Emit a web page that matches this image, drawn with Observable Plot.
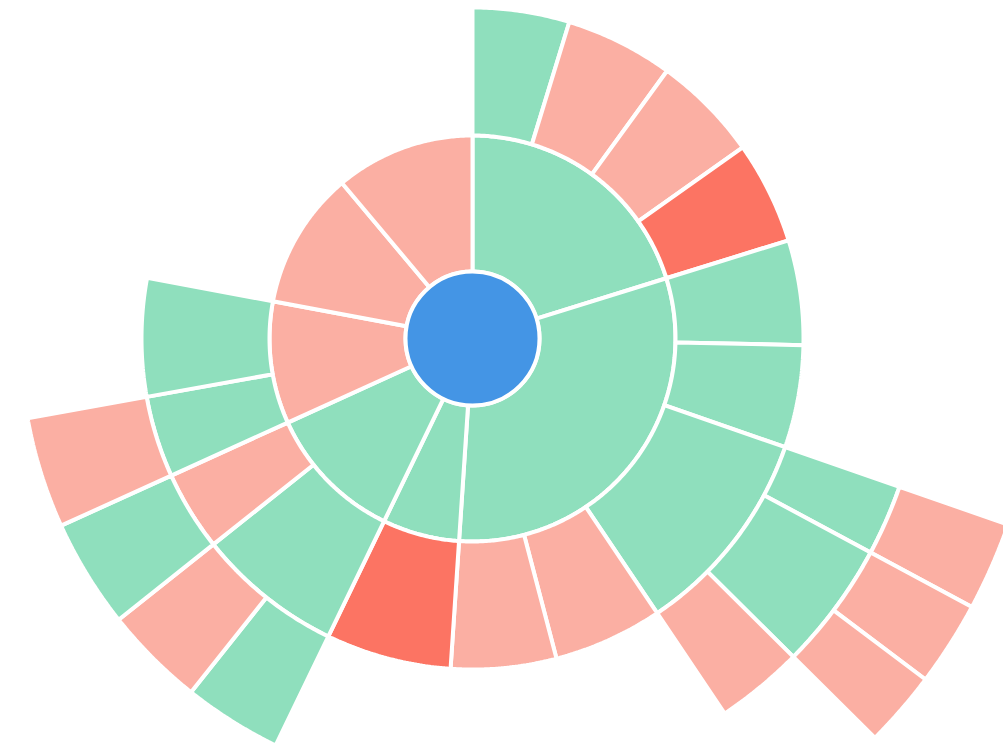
<!DOCTYPE html>
<html><head><meta charset="utf-8">
<script src="https://cdn.jsdelivr.net/npm/d3@7"></script>
<script src="https://cdn.jsdelivr.net/npm/@observablehq/plot@0.6"></script>
<style>html,body{margin:0;padding:0;overflow:hidden;background:#fff}</style>
</head><body><div id="chart"></div>
<script>
// Hierarchy (sunburst) data
const ids     = ["root","A","A1","A2","A3","A4","B","B1","B2","B3","B3a","B3a1","B3b","B3b1","B3b2","B3c","B4","B5","C","C1","D","D1","D1a","D1b","D2","D2a","E","E1","E1a","E2","F","G"];
const parents = [null,"root","A","A","A","A","root","B","B","B","B3","B3a","B3","B3b","B3b","B3","B","B","root","C","root","D","D1","D1","D","D2","root","E","E1","E","root","root"];
const values  = [0,0,17,19,18.7,18,0,18.4,18,0,0,9.1,0,8.7,7.8,11.3,19.2,18.5,0,22,0,0,12.7,13,0,14,0,0,14.3,20.7,39.4,40];
const kinds   = ["root","ok","ok","warn","warn","alert","ok","ok","ok","ok","ok","warn","ok","warn","warn","warn","warn","warn","ok","alert","ok","ok","ok","warn","warn","ok","warn","ok","warn","ok","warn","warn"];
const kindNames = ["root","ok","warn","alert"];

const table = ids.map((id, i) => ({id, parent: parents[i], value: values[i], kind: kinds[i]}));
const root = d3.stratify().id(d => d.id).parentId(d => d.parent)(table).sum(d => d.value);
d3.partition().size([360, root.height + 1])(root);

// ring radii by depth (pixels = data units)
const ringR = [0, 67, 203, 331, 452, 567];
const rad = a => a * Math.PI / 180;
const polys = [];
root.descendants().filter(n => n.depth > 0).forEach(n => {
  const a0 = n.x0, a1 = n.x1, r0 = ringR[n.depth], r1 = ringR[n.depth + 1];
  const steps = Math.max(2, Math.ceil((a1 - a0) / 0.5));
  const pts = [];
  for (let i = 0; i <= steps; i++) { const a = rad(a0 + (a1 - a0) * i / steps); pts.push([r1 * Math.sin(a), -r1 * Math.cos(a)]); }
  for (let i = steps; i >= 0; i--) { const a = rad(a0 + (a1 - a0) * i / steps); pts.push([r0 * Math.sin(a), -r0 * Math.cos(a)]); }
  pts.forEach(([x, y]) => polys.push({id: n.id, kind: n.data.kind, x, y}));
});

const chart = Plot.plot({
  width: 1003, height: 748, margin: 0,
  x: {domain: [-472, 531], axis: null},
  y: {domain: [-338, 410], reverse: true, axis: null},
  color: {domain: kindNames, range: ["#4495e5", "#8fdfbd", "#fbafa3", "#fc7463"]},
  marks: [
    Plot.line(polys, {x: "x", y: "y", z: "id", fill: "kind", stroke: "white", strokeWidth: 4, curve: "linear-closed", strokeLinejoin: "miter"}),
    Plot.dot([{x: 0, y: 0, kind: "root"}], {x: "x", y: "y", r: 67, fill: "kind", stroke: "white", strokeWidth: 4})
  ]
});
document.getElementById("chart").appendChild(chart);
</script>
</body></html>
